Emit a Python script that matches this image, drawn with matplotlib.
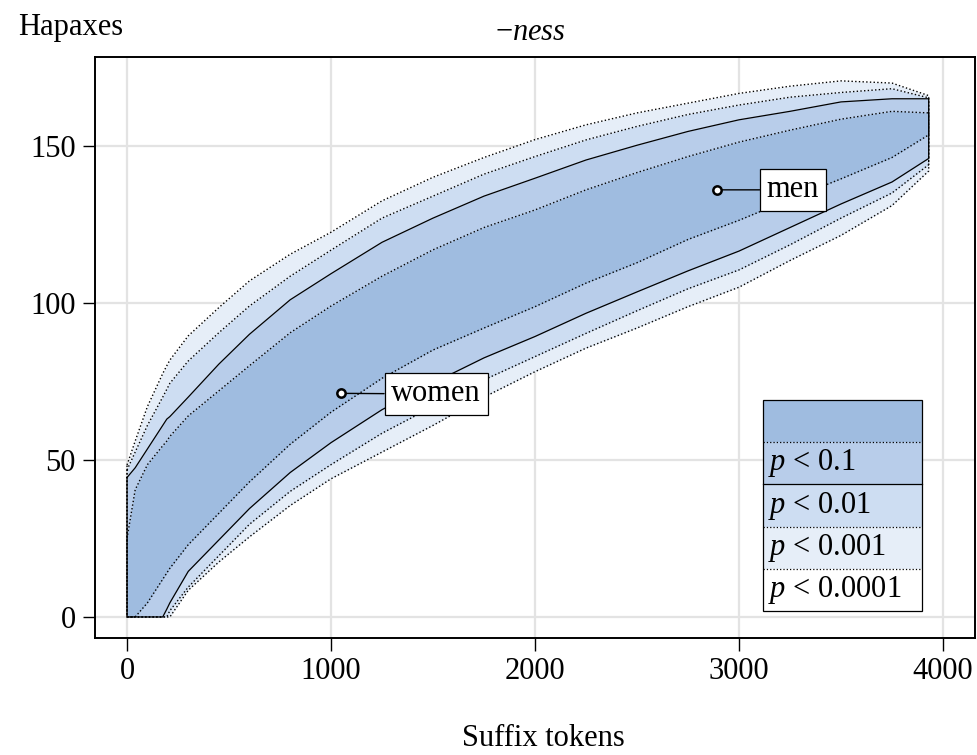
import numpy as np
import matplotlib
matplotlib.use("Agg")
import matplotlib.pyplot as plt

plt.rcParams["font.family"] = ["Liberation Serif", "DejaVu Serif"]
plt.rcParams["mathtext.fontset"] = "custom"
plt.rcParams["mathtext.rm"] = "Liberation Serif"
plt.rcParams["mathtext.it"] = "Liberation Serif:italic"

# suffix tokens (shared x for all envelope curves)
tokens = [0, 40, 100, 175, 195, 210, 300, 450, 600, 800, 1000, 1250, 1500,
          1750, 2000, 2250, 2500, 2750, 3000, 3250, 3500, 3750, 3930]

# upper envelopes, outer (p < 0.0001) to inner (p < 0.1)
upper_0001 = [48.4, 56, 67, 77.5, 80, 81.8, 89.5, 98.5, 107, 115.5, 122.5, 132.5,
              140, 146.3, 152, 156.7, 160.5, 163.6, 166.7, 169, 170.7, 170, 166]
upper_001 = [46.8, 52.5, 61, 70, 72.5, 74.4, 81.5, 90.5, 99, 108.5, 116.8, 127,
             134, 141, 146.6, 151.9, 156.2, 160, 163, 165.5, 167, 168.2, 165.3]
upper_01 = [44.4, 47.5, 53.5, 61, 63, 63.8, 70, 80.5, 90, 101, 109.3, 119.3,
            127, 134, 139.7, 145.5, 150.2, 154.6, 158.3, 161, 164, 165, 165]
upper_1 = [25, 40.5, 48.5, 54.5, 56, 57.5, 64, 72, 80, 90.5, 99, 108.5,
           116.9, 124, 129.6, 136, 141.5, 146.6, 151.2, 155, 158.5, 161, 160.5]

# lower envelopes
lower_1 = [0, 0, 4.5, 12, 14, 15.5, 23, 33, 43, 55, 65.2, 76, 85, 92,
           98.8, 106.3, 112.8, 120.2, 126.3, 133, 139.5, 146.3, 153.5]
lower_01 = [0, 0, 0, 0, 2.5, 4.5, 14.5, 24.5, 34.5, 46, 55.5, 66, 74.5, 82.5,
            89.3, 96.7, 103.5, 110.2, 116.5, 124, 131.5, 138.5, 146]
lower_001 = [0, 0, 0, 0, 0, 2, 9.5, 19.5, 29.5, 40, 48.5, 58.5, 67, 75.5,
             82.9, 90.3, 97.5, 104.5, 110.5, 118.5, 127, 135, 144]
lower_0001 = [0, 0, 0, 0, 0, 0, 8.5, 17.5, 25.5, 35.5, 44, 52.5, 61, 70,
              78.1, 85.6, 92, 98.8, 105, 113.5, 121.5, 131, 142]

# observed points
words = ["women", "men"]
word_tokens = [1047, 2891]
word_hapaxes = [71.2, 136]
label_pos = [(1515, 71), (3265, 136)]

levels = ["", "p < 0.1", "p < 0.01", "p < 0.001", "p < 0.0001"]
colors = ["#9fbce0", "#b8cdea", "#cdddf2", "#e6eef8", "white"]

FS = 22

fig = plt.figure(figsize=(9.77, 7.55), dpi=100)
ax = fig.add_axes([95 / 977, 117 / 755, 880 / 977, 581 / 755])

x = np.array(tokens)
bands = [
    (lower_0001, upper_0001, colors[3], ":"),
    (lower_001, upper_001, colors[2], ":"),
    (lower_01, upper_01, colors[1], "-"),
    (lower_1, upper_1, colors[0], ":"),
]
for lo, up, col, ls in bands:
    ax.fill_between(x, lo, up, color=col, lw=0, zorder=2)
for lo, up, col, ls in bands:
    ox = np.concatenate([x, x[::-1], x[:1]])
    oy = np.concatenate([up, lo[::-1], up[:1]])
    ax.plot(ox, oy, color="black", ls=ls, lw=0.9 if ls == "-" else 1.0, zorder=3)

for w, px, py, pos in zip(words, word_tokens, word_hapaxes, label_pos):
    ax.annotate(w, xy=(px, py), xytext=pos, fontsize=FS, ha="center", va="center",
                bbox=dict(boxstyle="square,pad=0.22", fc="white", ec="black", lw=0.9),
                arrowprops=dict(arrowstyle="-", color="black", lw=1.0,
                                shrinkA=0, shrinkB=3), zorder=5)
    ax.plot(px, py, "o", ms=6, mfc="white", mec="black", mew=1.8, zorder=6)

ax.set_xlim(-157, 4157)
ax.set_ylim(-6.7, 178.3)
ax.set_xticks([0, 1000, 2000, 3000, 4000])
ax.set_yticks([0, 50, 100, 150])
ax.grid(True, color="#e3e3e3", lw=1.6, zorder=0)
ax.set_axisbelow(True)
ax.tick_params(direction="out", length=9, width=1.0, labelsize=FS, pad=5)
for s in ax.spines.values():
    s.set_linewidth(1.4)

# legend box
lx0, lx1 = 0.759, 0.940
ly_top, ly_bot = 0.4096, 0.0465
rh = (ly_top - ly_bot) / len(levels)
edge_ls = [":", "-", ":", ":"]
for i, (lab, col) in enumerate(zip(levels, colors)):
    yb = ly_top - (i + 1) * rh
    ax.add_patch(plt.Rectangle((lx0, yb), lx1 - lx0, rh, transform=ax.transAxes,
                               fc=col, ec="none", zorder=7))
    if lab:
        num = lab.split("< ")[1]
        ax.text(lx0 + 0.006, yb + rh / 2, r"$p$ < " + num, transform=ax.transAxes,
                fontsize=FS, va="center", ha="left", zorder=9)
    if i < len(edge_ls):
        ax.plot([lx0, lx1], [yb, yb], transform=ax.transAxes, color="black",
                ls=edge_ls[i], lw=0.9, zorder=8)
ax.add_patch(plt.Rectangle((lx0, ly_bot), lx1 - lx0, ly_top - ly_bot,
                           transform=ax.transAxes, fc="none", ec="black",
                           lw=0.9, zorder=9))

fig.text(18 / 977, 1 - 28 / 755, "Hapaxes", fontsize=FS, ha="left", va="center")
fig.text(530 / 977, 1 - 32 / 755, r"$-\mathit{ness}$", fontsize=FS,
         ha="center", va="center")
fig.text(543 / 977, 9 / 755, "Suffix tokens", fontsize=FS,
         ha="center", va="baseline")

fig.savefig("out.png", dpi=100)
